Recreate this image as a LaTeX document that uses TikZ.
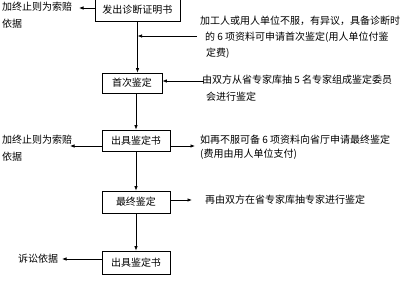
\documentclass[tikz,border=0pt]{standalone}
\usepackage{fontspec}
\setmainfont{Noto Sans CJK SC}
\usetikzlibrary{arrows.meta}
\begin{document}
\begin{tikzpicture}[
    x=1pt, y=-1pt,
    stage/.style={rectangle, draw, line width=0.8pt, inner sep=0pt, font=\fontsize{10}{12}\selectfont, fill=white},
    note/.style={anchor=north west, inner sep=0pt, align=left, font=\fontsize{10}{14}\selectfont},
    flow/.style={draw, line width=0.7pt, -{Latex[length=4.5pt,width=3.5pt]}}
]
  \useasboundingbox (0,0) rectangle (400,281);
  % main column
  \node[stage, minimum width=85pt, minimum height=23pt] (s1) at (137.5,10) {发出诊断证明书};
  \node[stage, minimum width=60pt, minimum height=20pt] (s2) at (132,83) {首次鉴定};
  \node[stage, minimum width=68pt, minimum height=21pt] (s3) at (136,140.5) {出具鉴定书};
  \node[stage, minimum width=68pt, minimum height=22pt] (s4) at (136,202) {最终鉴定};
  \node[stage, minimum width=68pt, minimum height=23pt] (s5) at (136,262.5) {出具鉴定书};
  \draw[flow] (s1.south) -- (s1.south |- s2.north);
  \draw[flow] (s2.south -| s3.north) -- (s3.north);
  \draw[flow] (s3.south) -- (s4.north);
  \draw[flow] (s4.south) -- (s5.north);
  % notes on the right
  \node[note] (r1) at (200,16) {加工人或用人单位不服，有异议，具备诊断时\\[2pt]
    \hspace*{5pt}的 6 项资料可申请首次鉴定(用人单位付鉴\\[2pt]
    \hspace*{6pt}定费)};
  \node[note] (r2) at (202,75) {由双方从省专家库抽 5 名专家组成鉴定委员\\[3pt]
    \hspace*{4pt}会进行鉴定};
  \node[note] (r3) at (200,135) {如再不服可备 6 项资料向省厅申请最终鉴定\\
    (费用由用人单位支付)};
  \node[note] (r4) at (205,195) {再由双方在省专家库抽专家进行鉴定};
  \coordinate (c1) at (197,36);
  \coordinate (c2) at (204,81);
  \coordinate (c3) at (195,146);
  \coordinate (c4) at (192,200);
  \draw[flow] (c1) -- (c1 -| s1.south);
  \draw[flow] (c2) -- (c2 -| s2.east);
  \draw[flow] (c3 -| s3.east) -- (c3);
  \draw[flow] (c4 -| s4.east) -- (c4);
  % notes on the left
  \node[note] (l1) at (2,2) {加终止则为索赔\\[3pt]依据};
  \node[note] (l3) at (2,135) {加终止则为索赔\\[3pt]依据};
  \node[note] (l5) at (18,254) {诉讼依据};
  \coordinate (d1) at (79,8);
  \coordinate (d3) at (70,146);
  \coordinate (d5) at (62,259);
  \draw[flow] (d1 -| s1.west) -- (d1);
  \draw[flow] (d3 -| s3.west) -- (d3);
  \draw[flow] (d5 -| s5.west) -- (d5);
\end{tikzpicture}
\end{document}
